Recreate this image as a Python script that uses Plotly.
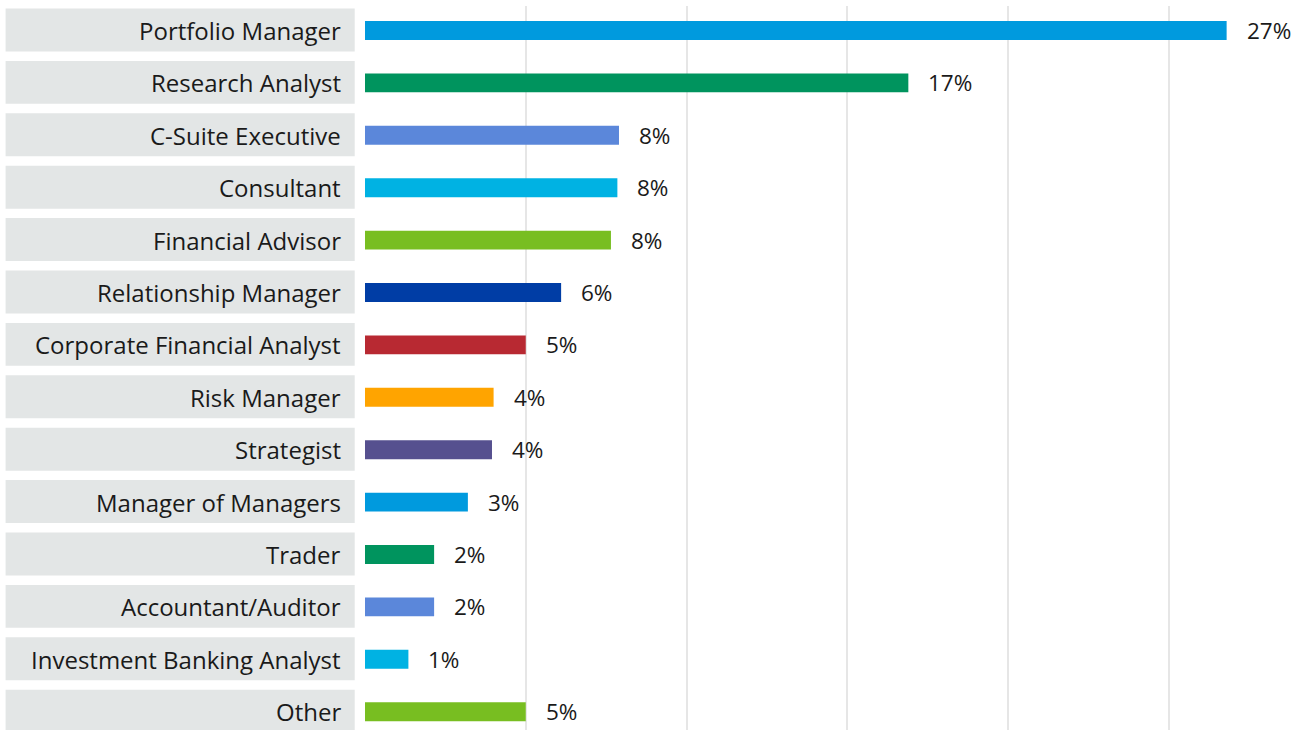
import plotly.graph_objects as go

categories = ["Portfolio Manager", "Research Analyst", "C-Suite Executive", "Consultant",
              "Financial Advisor", "Relationship Manager", "Corporate Financial Analyst",
              "Risk Manager", "Strategist", "Manager of Managers", "Trader",
              "Accountant/Auditor", "Investment Banking Analyst", "Other"]
values = [26.8, 16.9, 7.9, 7.85, 7.65, 6.1, 5.0, 4.0, 3.95, 3.2, 2.15, 2.15, 1.35, 5.0]
value_labels = ["27%", "17%", "8%", "8%", "8%", "6%", "5%", "4%", "4%", "3%", "2%", "2%", "1%", "5%"]
colors = ["#009ADE", "#00945E", "#5B87DA", "#00B2E3", "#78BE21", "#003DA5", "#B82932",
          "#FFA400", "#56508F", "#009ADE", "#00945E", "#5B87DA", "#00B2E3", "#78BE21"]

W, H = 1306, 730
L = 365.3
plot_w = W - L
FONT = "Open Sans"
ypos = list(range(len(categories)))

fig = go.Figure(go.Bar(
    x=values, y=ypos, orientation="h",
    marker=dict(color=colors, line=dict(width=0)),
    width=0.36, hoverinfo="skip",
))

def px_to_paper(px):
    return (px - L) / plot_w

shapes = []
annotations = []
for i, (cat, v, lab) in enumerate(zip(categories, values, value_labels)):
    shapes.append(dict(type="rect", xref="paper", yref="y",
                       x0=px_to_paper(6), x1=px_to_paper(355),
                       y0=i - 0.42, y1=i + 0.40,
                       fillcolor="#E3E6E6", line=dict(width=0), layer="below"))
    annotations.append(dict(xref="paper", yref="y", x=px_to_paper(343), y=i,
                            text=cat, showarrow=False, xanchor="right", yanchor="middle",
                            font=dict(family=FONT, size=24, color="#1a1a1a")))
    annotations.append(dict(xref="x", yref="y", x=v, y=i, xshift=18,
                            text=lab, showarrow=False, xanchor="left", yanchor="middle",
                            font=dict(family=FONT, size=22.5, color="#1a1a1a")))

fig.update_layout(
    width=W, height=H,
    margin=dict(l=L, r=0, t=6, b=0, pad=0),
    paper_bgcolor="white", plot_bgcolor="white",
    showlegend=False,
    shapes=shapes, annotations=annotations,
    xaxis=dict(range=[0, plot_w / 32.14], tickvals=[5, 10, 15, 20, 25],
               showticklabels=False, showgrid=True, gridcolor="#E6E6E6", gridwidth=1.5,
               zeroline=False, showline=False, fixedrange=True),
    yaxis=dict(range=[(730 - 30.5) / 52.4, (6 - 30.5) / 52.4], showticklabels=False,
               showgrid=False, zeroline=False, showline=False, fixedrange=True),
)

fig.write_html("out.html", config={"displayModeBar": False})
